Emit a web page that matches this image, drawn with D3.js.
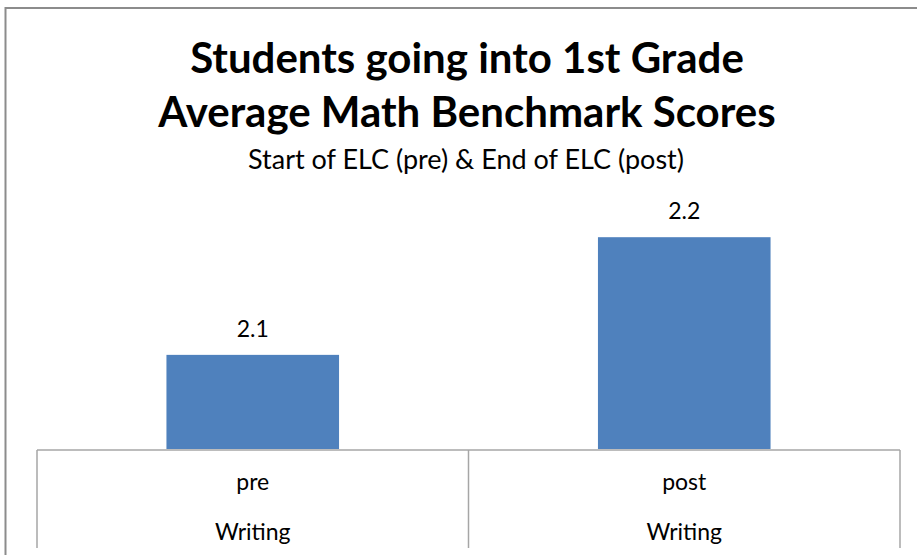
<!DOCTYPE html>
<html>
<head>
<meta charset="utf-8">
<script src="https://cdn.jsdelivr.net/npm/d3@7"></script>
<style>
  body { margin: 0; background: #fff; }
  text { font-family: Lato, "Open Sans", sans-serif; fill: #000; }
</style>
</head>
<body>
<svg width="917" height="555"></svg>
<script>
// data (labels show 1 decimal)
const categories = ["pre", "post"];
const groups = ["Writing", "Writing"];
const values = [2.08, 2.18];
const titleLines = ["Students going into 1st Grade", "Average Math Benchmark Scores"];
const subtitle = "Start of ELC (pre) & End of ELC (post)";

let svg = d3.select("svg"),
    width = +svg.attr("width"),
    height = +svg.attr("height");

// outer chart border (top + left only, the rest is cropped off)
svg.append("path")
    .attr("d", "M5.5,560 V8 H920")
    .attr("fill", "none")
    .attr("stroke", "#8c8c8c")
    .attr("stroke-width", 2);

let margin = {left: 37, right: 17, top: 96, bottom: 106};
let baseY = height - margin.bottom;

let x = d3.scaleBand()
    .domain(categories)
    .range([margin.left, width - margin.right])
    .paddingInner(0.6)
    .paddingOuter(0.3);

let xCat = d3.scaleBand()
    .domain(categories)
    .range([margin.left, width - margin.right]);

let y = d3.scaleLinear()
    .domain([2.0, 2.3])
    .range([baseY, margin.top]);

// title
svg.append("g")
    .selectAll("text")
    .data(titleLines)
    .enter().append("text")
    .attr("x", 467)
    .attr("y", (d, i) => 73 + i * 54)
    .attr("text-anchor", "middle")
    .style("font-size", "42px")
    .style("font-weight", "bold")
    .text(d => d);

svg.append("text")
    .attr("x", 466)
    .attr("y", 169)
    .attr("text-anchor", "middle")
    .style("font-size", "27px")
    .text(subtitle);

// bars
svg.append("g")
    .selectAll("rect")
    .data(values)
    .enter().append("rect")
    .attr("x", (d, i) => x(categories[i]))
    .attr("width", x.bandwidth())
    .attr("y", d => y(d))
    .attr("height", d => baseY - y(d))
    .attr("fill", "#4f81bd");

// data labels
svg.append("g")
    .selectAll("text")
    .data(values)
    .enter().append("text")
    .attr("x", (d, i) => x(categories[i]) + x.bandwidth() / 2)
    .attr("y", d => y(d) - 18)
    .attr("text-anchor", "middle")
    .style("font-size", "23px")
    .text(d => d3.format(".1f")(d));

// category table lines
let table = svg.append("g")
    .attr("stroke", "#a6a6a6")
    .attr("stroke-width", 1.5)
    .attr("fill", "none");

table.append("line")
    .attr("x1", margin.left).attr("x2", width - margin.right)
    .attr("y1", baseY + 1).attr("y2", baseY + 1);

let edges = [margin.left].concat(categories.map(c => xCat(c) + xCat.bandwidth()));
table.selectAll(".div")
    .data(edges)
    .enter().append("line")
    .attr("x1", d => d).attr("x2", d => d)
    .attr("y1", baseY + 1).attr("y2", height - 7);

// category labels
svg.append("g")
    .selectAll("text")
    .data(categories)
    .enter().append("text")
    .attr("x", d => xCat(d) + xCat.bandwidth() / 2)
    .attr("y", 490)
    .attr("text-anchor", "middle")
    .style("font-size", "23px")
    .text(d => d);

svg.append("g")
    .selectAll("text")
    .data(groups)
    .enter().append("text")
    .attr("x", (d, i) => xCat(categories[i]) + xCat.bandwidth() / 2)
    .attr("y", 540)
    .attr("text-anchor", "middle")
    .style("font-size", "23px")
    .text(d => d);
</script>
</body>
</html>
